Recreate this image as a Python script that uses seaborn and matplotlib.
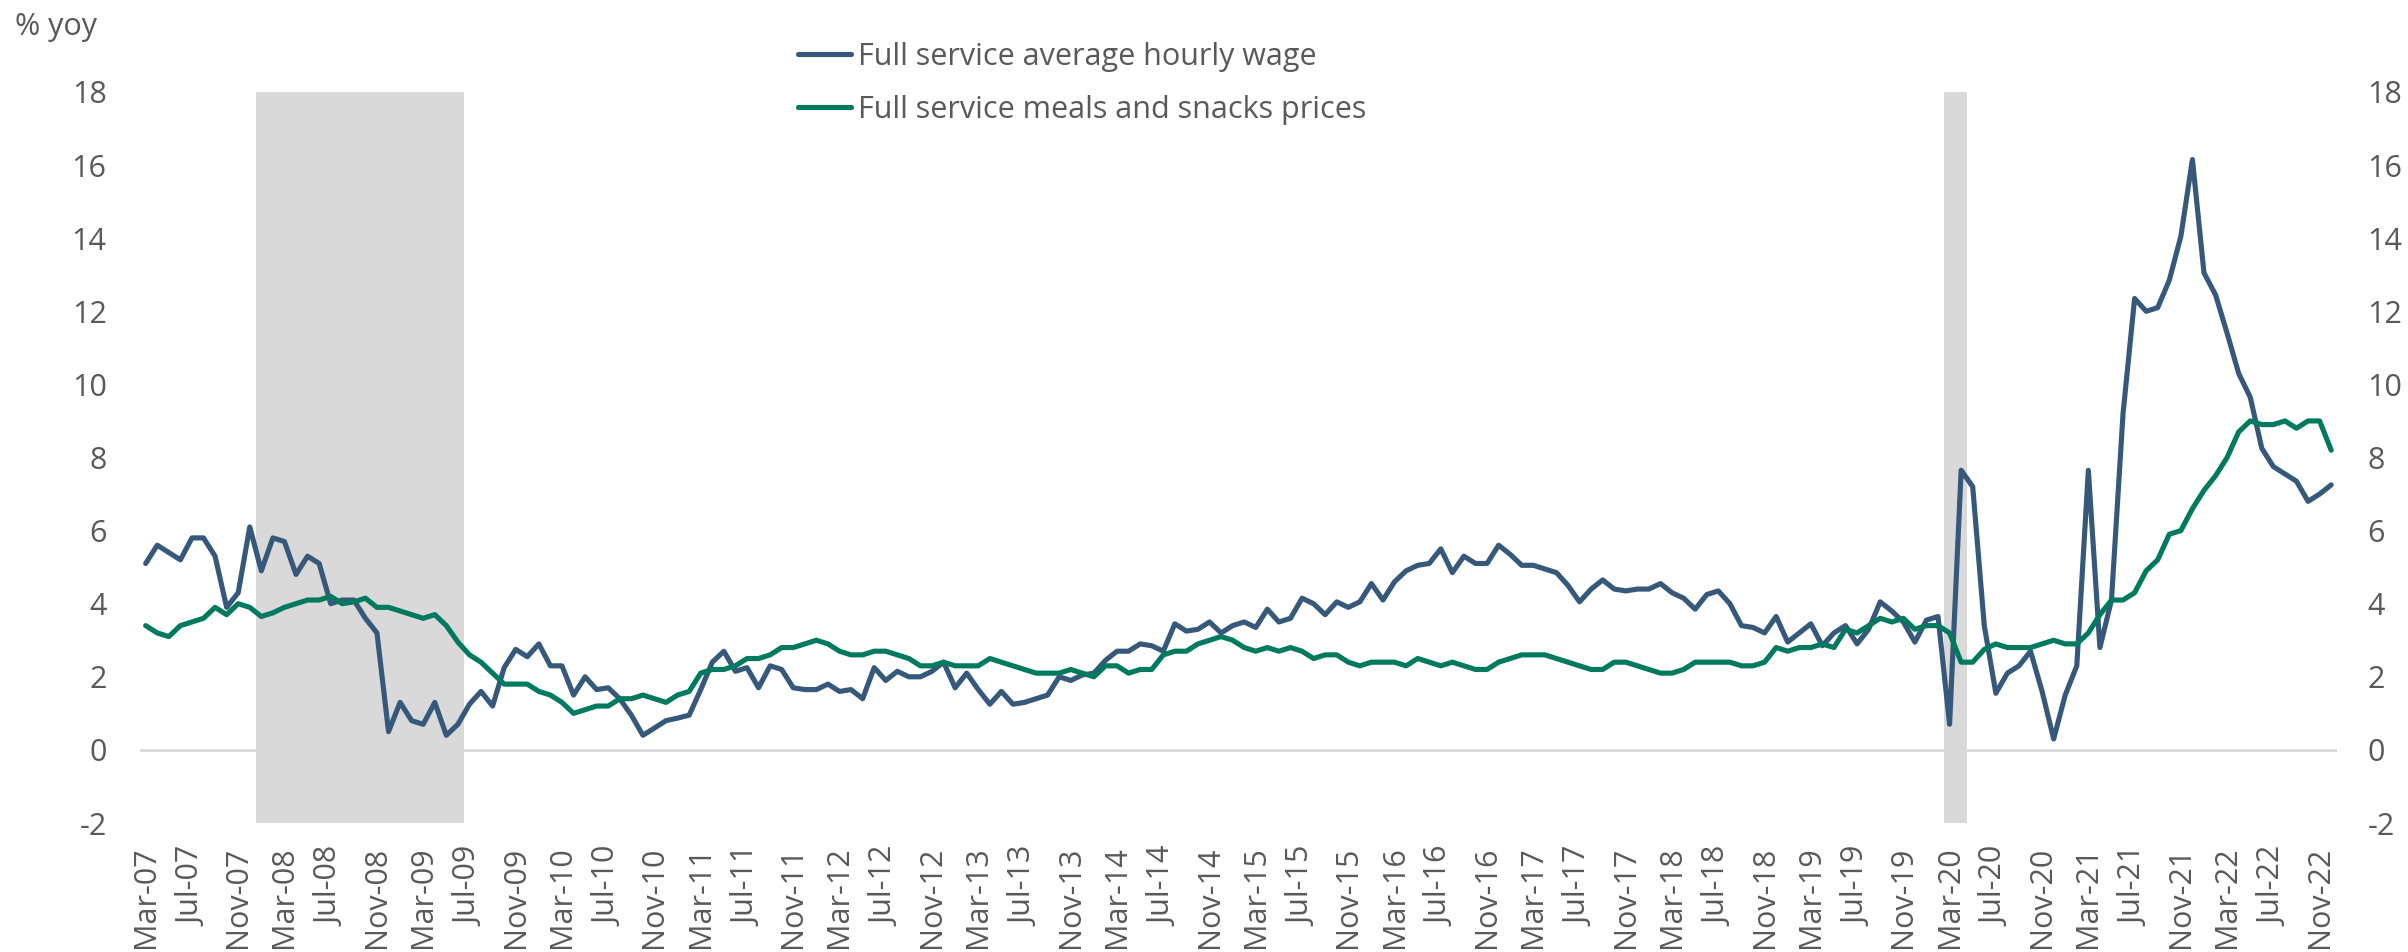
import pandas as pd
import seaborn as sns
import matplotlib.pyplot as plt

# monthly % yoy, Mar-07 .. Dec-22
wage = [
    5.1, 5.6, 5.4, 5.2, 5.8, 5.8, 5.3, 3.9, 4.3, 6.1,
    4.9, 5.8, 5.7, 4.8, 5.3, 5.1, 4.0, 4.1, 4.1, 3.6,
    3.2, 0.5, 1.3, 0.8, 0.7, 1.3, 0.4, 0.7, 1.25, 1.6,
    1.2, 2.25, 2.75, 2.55, 2.9, 2.3, 2.3, 1.5, 2.0, 1.65,
    1.7, 1.4, 0.95, 0.4, 0.6, 0.8, 0.87, 0.95, 1.65, 2.4,
    2.7, 2.15, 2.25, 1.7, 2.3, 2.2, 1.7, 1.65, 1.65, 1.8,
    1.6, 1.65, 1.4, 2.25, 1.9, 2.15, 2.0, 2.0, 2.15, 2.4,
    1.7, 2.1, 1.65, 1.25, 1.6, 1.25, 1.3, 1.4, 1.5, 2.0,
    1.9, 2.05, 2.1, 2.45, 2.7, 2.7, 2.9, 2.85, 2.7, 3.45,
    3.25, 3.3, 3.5, 3.2, 3.4, 3.5, 3.35, 3.85, 3.5, 3.6,
    4.15, 4.0, 3.7, 4.05, 3.9, 4.05, 4.55, 4.1, 4.6, 4.9,
    5.05, 5.1, 5.5, 4.85, 5.3, 5.1, 5.1, 5.6, 5.35, 5.05,
    5.05, 4.95, 4.85, 4.5, 4.05, 4.4, 4.65, 4.4, 4.35, 4.4,
    4.4, 4.55, 4.3, 4.15, 3.85, 4.25, 4.35, 4.0, 3.4, 3.35,
    3.2, 3.65, 2.95, 3.2, 3.45, 2.85, 3.2, 3.4, 2.9, 3.3,
    4.05, 3.8, 3.5, 2.95, 3.55, 3.65, 0.7, 7.65, 7.2, 3.4,
    1.55, 2.1, 2.3, 2.7, 1.6, 0.3, 1.5, 2.3, 7.65, 2.8,
    4.1, 9.2, 12.35, 12.0, 12.1, 12.85, 14.05, 16.15, 13.05, 12.45,
    11.4, 10.3, 9.65, 8.25, 7.75, 7.55, 7.35, 6.8, 7.0, 7.25,
]
prices = [
    3.4, 3.2, 3.1, 3.4, 3.5, 3.6, 3.9, 3.7, 4.0, 3.9,
    3.65, 3.75, 3.9, 4.0, 4.1, 4.1, 4.2, 4.0, 4.05, 4.15,
    3.9, 3.9, 3.8, 3.7, 3.6, 3.7, 3.4, 2.95, 2.6, 2.4,
    2.1, 1.8, 1.8, 1.8, 1.6, 1.5, 1.3, 1.0, 1.1, 1.2,
    1.2, 1.4, 1.4, 1.5, 1.4, 1.3, 1.5, 1.6, 2.1, 2.2,
    2.2, 2.3, 2.5, 2.5, 2.6, 2.8, 2.8, 2.9, 3.0, 2.9,
    2.7, 2.6, 2.6, 2.7, 2.7, 2.6, 2.5, 2.3, 2.3, 2.4,
    2.3, 2.3, 2.3, 2.5, 2.4, 2.3, 2.2, 2.1, 2.1, 2.1,
    2.2, 2.1, 2.0, 2.3, 2.3, 2.1, 2.2, 2.2, 2.6, 2.7,
    2.7, 2.9, 3.0, 3.1, 3.0, 2.8, 2.7, 2.8, 2.7, 2.8,
    2.7, 2.5, 2.6, 2.6, 2.4, 2.3, 2.4, 2.4, 2.4, 2.3,
    2.5, 2.4, 2.3, 2.4, 2.3, 2.2, 2.2, 2.4, 2.5, 2.6,
    2.6, 2.6, 2.5, 2.4, 2.3, 2.2, 2.2, 2.4, 2.4, 2.3,
    2.2, 2.1, 2.1, 2.2, 2.4, 2.4, 2.4, 2.4, 2.3, 2.3,
    2.4, 2.8, 2.7, 2.8, 2.8, 2.9, 2.8, 3.3, 3.2, 3.4,
    3.6, 3.5, 3.6, 3.3, 3.4, 3.4, 3.2, 2.4, 2.4, 2.75,
    2.9, 2.8, 2.8, 2.8, 2.9, 3.0, 2.9, 2.9, 3.2, 3.7,
    4.1, 4.1, 4.3, 4.9, 5.2, 5.9, 6.0, 6.6, 7.1, 7.5,
    8.0, 8.7, 9.0, 8.9, 8.9, 9.0, 8.8, 9.0, 9.0, 8.2,
]
months = pd.date_range('2007-03-01', periods=len(wage), freq='MS')
month_labels = [m.strftime('%b-%y') for m in months]

# shaded recession months (first, last)
recessions = [('Jan-08', 'Jun-09'), ('Mar-20', 'Apr-20')]

series_names = ['Full service average hourly wage',
                'Full service meals and snacks prices']
yticks = list(range(-2, 20, 2))

BLUE = '#36587A'
GREEN = '#007A5E'
SHADE = '#D9D9D9'
TEXT = '#595959'

df = pd.DataFrame({'idx': range(len(wage)), 'wage': wage, 'prices': prices})

sns.set_style('white')
plt.rcParams['font.family'] = ['Open Sans', 'DejaVu Sans']
plt.rcParams['axes.unicode_minus'] = False
FS = 22

fig = plt.figure(figsize=(24.08, 9.52), dpi=100)
ax = fig.add_axes([0.0581, 0.1355, 0.9124, 0.7679])

ax.axhline(0, color=SHADE, lw=2, zorder=0.5)
for start, end in recessions:
    a = month_labels.index(start) - 0.5
    b = month_labels.index(end) + 0.5
    ax.axvspan(a, b, color=SHADE, lw=0, zorder=1)

line_kw = dict(linewidth=3.7, solid_joinstyle='round', solid_capstyle='round', zorder=3)
sns.lineplot(data=df, x='idx', y='wage', color=BLUE, label=series_names[0], ax=ax, **line_kw)
sns.lineplot(data=df, x='idx', y='prices', color=GREEN, label=series_names[1], ax=ax, **line_kw)

ax.set_xlim(-0.5, len(wage) - 0.5)
ax.set_ylim(-2, 18)
ax.set_yticks(yticks)
ax.set_xticks(df['idx'][::4])
ax.set_xticklabels(month_labels[::4], rotation=90)
ax.set_xlabel('')
ax.set_ylabel('')
ax.tick_params(axis='x', length=0, pad=17, labelsize=FS, colors=TEXT)
ax.tick_params(axis='y', length=0, pad=24, labelsize=FS, colors=TEXT)
for s in ax.spines.values():
    s.set_visible(False)

ax2 = ax.twinx()
ax2.set_ylim(-2, 18)
ax2.set_yticks(yticks)
ax2.tick_params(axis='y', length=0, pad=22, labelsize=FS, colors=TEXT)
for s in ax2.spines.values():
    s.set_visible(False)

handles, labels = ax.get_legend_handles_labels()
ax.legend_.remove()
fig.legend(handles, labels, loc='upper left', bbox_to_anchor=(798 / 2408, 1 - 42 / 952),
           frameon=False, fontsize=FS, labelcolor=TEXT, borderpad=0, borderaxespad=0,
           handlelength=1.75, handletextpad=0.2, labelspacing=0.75)

fig.text(15 / 2408, 1 - 27 / 952, '% yoy', fontsize=FS, color=TEXT, va='center', ha='left')

fig.savefig('out.png', dpi=100)
plt.close()
